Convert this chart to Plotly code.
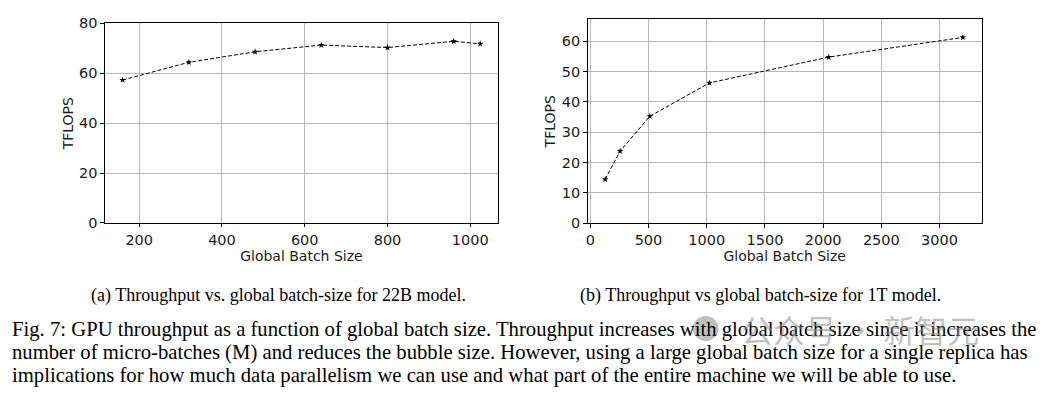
import plotly.graph_objects as go

# Data
batch_22b = [160, 320, 480, 640, 800, 960, 1024]
tflops_22b = [57.3, 64.4, 68.6, 71.3, 70.3, 72.8, 71.8]
batch_1t = [128, 256, 512, 1024, 2048, 3200]
tflops_1t = [14.5, 23.8, 35.3, 46.3, 54.8, 61.3]

xticks_a = [200, 400, 600, 800, 1000]
yticks_a = [0, 20, 40, 60, 80]
xticks_b = [0, 500, 1000, 1500, 2000, 2500, 3000]
yticks_b = [0, 10, 20, 30, 40, 50, 60]

sub_a = "(a) Throughput vs. global batch-size for 22B model."
sub_b = "(b) Throughput vs global batch-size for 1T model."
cap_lines = [
    "Fig. 7: GPU throughput as a function of global batch size. Throughput increases with global batch size since it increases the",
    "number of micro-batches (M) and reduces the bubble size. However, using a large global batch size for a single replica has",
    "implications for how much data parallelism we can use and what part of the entire machine we will be able to use.",
]
watermark = "公众号 · 新智元"

W, H = 1048, 397
fig = go.Figure()

line_style = dict(color="black", width=1, dash="4px,2px")
marker_style = dict(symbol="star", size=5, color="black")

fig.add_trace(go.Scatter(x=batch_22b, y=tflops_22b, mode="lines+markers",
                         line=line_style, marker=marker_style, xaxis="x", yaxis="y",
                         showlegend=False))
fig.add_trace(go.Scatter(x=batch_1t, y=tflops_1t, mode="lines+markers",
                         line=line_style, marker=marker_style, xaxis="x2", yaxis="y2",
                         showlegend=False))

tickfont = dict(family="DejaVu Sans", size=14.5, color="#1a1a1a")
axis_common = dict(showline=True, linecolor="black", linewidth=1, mirror=True,
                   ticks="outside", ticklen=3.5, tickcolor="black", tickwidth=1,
                   showgrid=True, gridcolor="#b8b8b8", gridwidth=1, zeroline=False,
                   tickfont=tickfont)
titlefont = dict(family="DejaVu Sans", size=14, color="#1a1a1a")

fig.update_layout(
    width=W, height=H,
    margin=dict(l=0, r=0, t=0, b=0),
    paper_bgcolor="white", plot_bgcolor="white",
    xaxis=dict(domain=[103 / W, 497 / W], range=[116.8, 1067.2], tickvals=xticks_a,
               title=dict(text="Global Batch Size", font=titlefont, standoff=0),
               anchor="y", **axis_common),
    yaxis=dict(domain=[1 - 224 / H, 1 - 16 / H], range=[0, 80], tickvals=yticks_a,
               title=dict(text="TFLOPS", font=titlefont, standoff=2),
               anchor="x", **axis_common),
    xaxis2=dict(domain=[586.7 / W, 981.7 / W], range=[-23, 3363], tickvals=xticks_b,
                title=dict(text="Global Batch Size", font=titlefont, standoff=0),
                anchor="y2", **axis_common),
    yaxis2=dict(domain=[1 - 224.3 / H, 1 - 11.7 / H], range=[0, 67.3], tickvals=yticks_b,
                title=dict(text="TFLOPS", font=titlefont, standoff=2),
                anchor="x2", **axis_common),
)

serif = "Liberation Serif"
anns = [
    dict(text=sub_a, x=277 / W, y=1 - 300 / H, font=dict(family=serif, size=18, color="black")),
    dict(text=sub_b, x=760 / W, y=1 - 300 / H, font=dict(family=serif, size=18, color="black")),
]
for t, yc in zip(cap_lines, [334.5, 358.5, 382.5]):
    anns.append(dict(text=t, x=8 / W, y=1 - yc / H, xanchor="left",
                     font=dict(family=serif, size=20.7, color="black")))
# watermark
anns.append(dict(text=watermark, x=738 / W, y=1 - 334 / H, xanchor="left",
                 font=dict(family="Noto Sans CJK SC", size=32, color="rgba(140,140,140,0.55)")))
for a in anns:
    a.setdefault("xanchor", "center")
    a.update(xref="paper", yref="paper", yanchor="middle", showarrow=False)
fig.update_layout(annotations=anns)
fig.add_shape(type="circle", xref="paper", yref="paper",
              x0=692 / W, x1=718 / W, y0=1 - 347 / H, y1=1 - 321 / H,
              fillcolor="rgba(140,140,140,0.55)", line=dict(width=0), layer="above")

fig.write_html("out.html", config={"displayModeBar": False},
               post_script="document.body.style.margin='0';")
